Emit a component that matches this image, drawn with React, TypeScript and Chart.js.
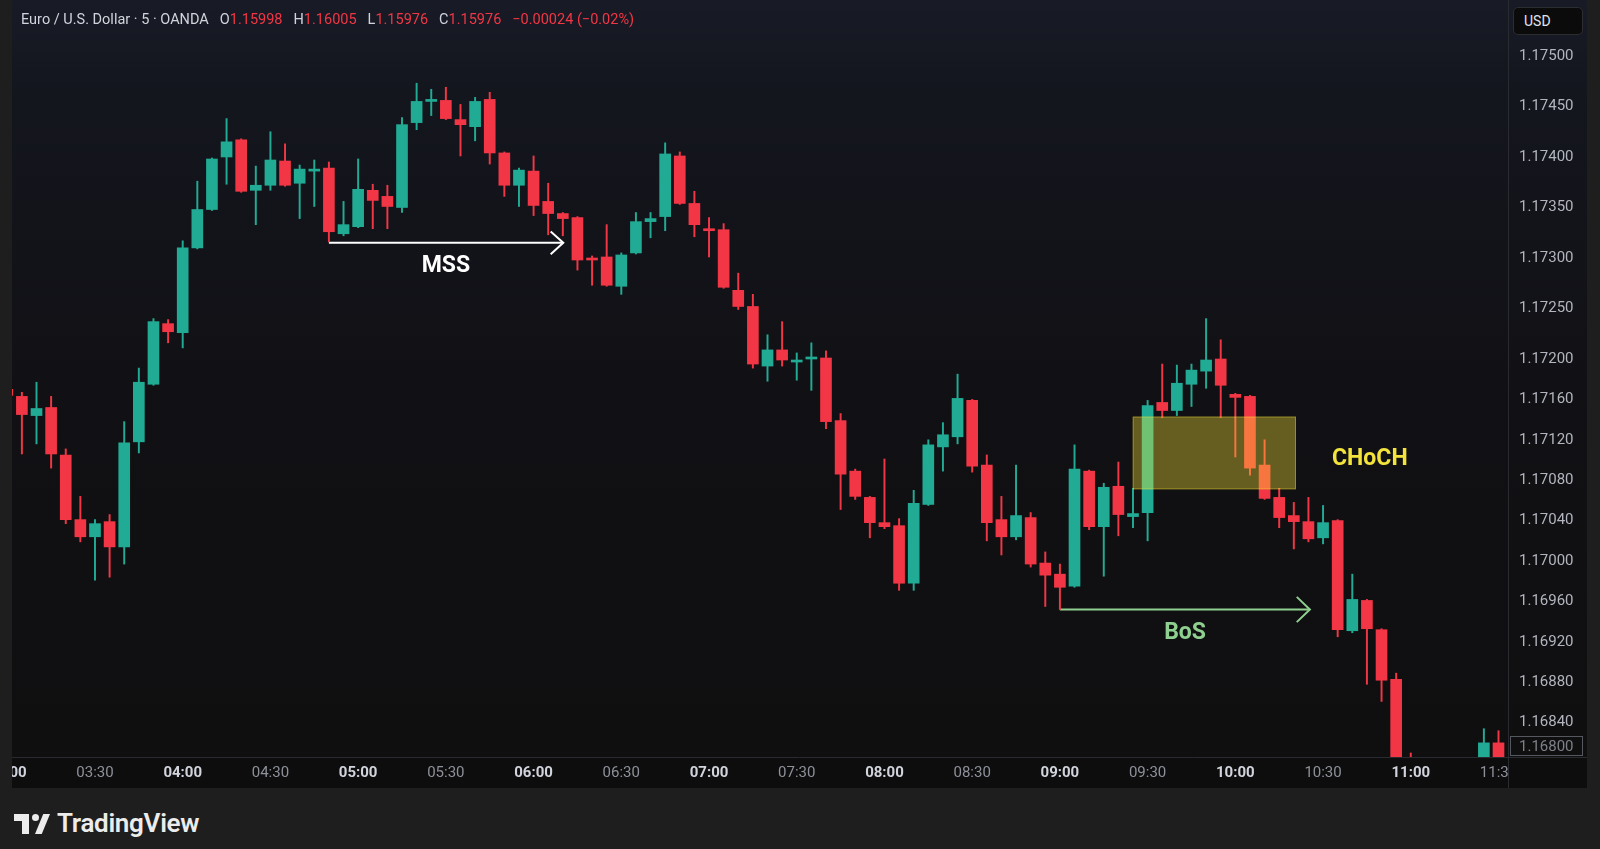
import React, { useEffect, useRef } from "react";
import { Chart, registerables } from "chart.js";

Chart.register(...registerables);

// ---------- data (5-minute EUR/USD candles) ----------
const times = [
  "03:00","03:05","03:10","03:15","03:20","03:25","03:30","03:35","03:40","03:45","03:50","03:55",
  "04:00","04:05","04:10","04:15","04:20","04:25","04:30","04:35","04:40","04:45","04:50","04:55",
  "05:00","05:05","05:10","05:15","05:20","05:25","05:30","05:35","05:40","05:45","05:50","05:55",
  "06:00","06:05","06:10","06:15","06:20","06:25","06:30","06:35","06:40","06:45","06:50","06:55",
  "07:00","07:05","07:10","07:15","07:20","07:25","07:30","07:35","07:40","07:45","07:50","07:55",
  "08:00","08:05","08:10","08:15","08:20","08:25","08:30","08:35","08:40","08:45","08:50","08:55",
  "09:00","09:05","09:10","09:15","09:20","09:25","09:30","09:35","09:40","09:45","09:50","09:55",
  "10:00","10:05","10:10","10:15","10:20","10:25","10:30","10:35","10:40","10:45","10:50","10:55",
  "11:00","11:05","11:10","11:15","11:20","11:25","11:30",
];

const opens = [
  1.17170, 1.17163, 1.17144, 1.17152, 1.17105, 1.17041, 1.17024, 1.17039, 1.17014, 1.17118, 1.17175, 1.17235,
  1.17226, 1.17310, 1.17348, 1.17400, 1.17417, 1.17367, 1.17372, 1.17396, 1.17374, 1.17386, 1.17389, 1.17324,
  1.17331, 1.17367, 1.17361, 1.17350, 1.17434, 1.17455, 1.17456, 1.17437, 1.17430, 1.17457, 1.17404, 1.17372,
  1.17386, 1.17356, 1.17344, 1.17340, 1.17300, 1.17301, 1.17272, 1.17305, 1.17336, 1.17341, 1.17401, 1.17354,
  1.17329, 1.17328, 1.17268, 1.17252, 1.17193, 1.17209, 1.17197, 1.17200, 1.17201, 1.17139, 1.17089, 1.17063,
  1.17038, 1.17035, 1.16978, 1.17056, 1.17113, 1.17123, 1.17159, 1.17095, 1.17041, 1.17024, 1.17043, 1.16998,
  1.16987, 1.16975, 1.17089, 1.17034, 1.17074, 1.17044, 1.17048, 1.17157, 1.17149, 1.17175, 1.17188, 1.17200,
  1.17165, 1.17163, 1.17095, 1.17063, 1.17045, 1.17039, 1.17023, 1.17040, 1.16931, 1.16961, 1.16932, 1.16883,
  1.16760, 1.16725, 1.16740, 1.16715, 1.16745, 1.16785, 1.16820,
];

const highs = [
  1.17178, 1.17167, 1.17177, 1.17163, 1.17111, 1.17064, 1.17041, 1.17046, 1.17138, 1.17191, 1.17240, 1.17239,
  1.17317, 1.17376, 1.17399, 1.17438, 1.17418, 1.17391, 1.17425, 1.17413, 1.17392, 1.17397, 1.17395, 1.17356,
  1.17398, 1.17373, 1.17372, 1.17439, 1.17473, 1.17467, 1.17469, 1.17452, 1.17459, 1.17464, 1.17405, 1.17389,
  1.17401, 1.17374, 1.17345, 1.17341, 1.17302, 1.17333, 1.17305, 1.17345, 1.17345, 1.17414, 1.17405, 1.17366,
  1.17340, 1.17334, 1.17285, 1.17264, 1.17224, 1.17237, 1.17206, 1.17216, 1.17208, 1.17146, 1.17091, 1.17064,
  1.17101, 1.17042, 1.17070, 1.17120, 1.17137, 1.17185, 1.17160, 1.17105, 1.17064, 1.17095, 1.17048, 1.17009,
  1.16997, 1.17115, 1.17090, 1.17077, 1.17098, 1.17072, 1.17159, 1.17195, 1.17194, 1.17195, 1.17240, 1.17219,
  1.17166, 1.17164, 1.17120, 1.17072, 1.17058, 1.17063, 1.17055, 1.17041, 1.16987, 1.16962, 1.16933, 1.16889,
  1.16810, 1.16760, 1.16770, 1.16750, 1.16790, 1.16834, 1.16832,
];

const lows = [
  1.17150, 1.17106, 1.17116, 1.17092, 1.17037, 1.17019, 1.16981, 1.16984, 1.16997, 1.17107, 1.17174, 1.17216,
  1.17211, 1.17309, 1.17347, 1.17373, 1.17365, 1.17333, 1.17367, 1.17371, 1.17339, 1.17351, 1.17316, 1.17322,
  1.17330, 1.17329, 1.17329, 1.17345, 1.17427, 1.17441, 1.17437, 1.17401, 1.17416, 1.17393, 1.17361, 1.17351,
  1.17342, 1.17323, 1.17322, 1.17288, 1.17273, 1.17272, 1.17264, 1.17304, 1.17320, 1.17327, 1.17353, 1.17321,
  1.17301, 1.17270, 1.17249, 1.17191, 1.17178, 1.17193, 1.17179, 1.17169, 1.17131, 1.17051, 1.17061, 1.17023,
  1.17032, 1.16971, 1.16971, 1.17055, 1.17089, 1.17116, 1.17088, 1.17020, 1.17006, 1.17021, 1.16994, 1.16955,
  1.16952, 1.16974, 1.17031, 1.16985, 1.17025, 1.17033, 1.17020, 1.17142, 1.17144, 1.17153, 1.17171, 1.17142,
  1.17103, 1.17085, 1.17061, 1.17033, 1.17012, 1.17019, 1.17017, 1.16925, 1.16929, 1.16878, 1.16861, 1.16740,
  1.16700, 1.16690, 1.16705, 1.16680, 1.16730, 1.16775, 1.16790,
];

const closes = [
  1.17164, 1.17145, 1.17151, 1.17106, 1.17041, 1.17024, 1.17037, 1.17014, 1.17117, 1.17177, 1.17237, 1.17227,
  1.17310, 1.17348, 1.17398, 1.17415, 1.17366, 1.17372, 1.17397, 1.17372, 1.17388, 1.17388, 1.17326, 1.17333,
  1.17368, 1.17357, 1.17351, 1.17432, 1.17455, 1.17457, 1.17438, 1.17432, 1.17455, 1.17404, 1.17372, 1.17387,
  1.17352, 1.17344, 1.17339, 1.17298, 1.17298, 1.17273, 1.17303, 1.17336, 1.17339, 1.17403, 1.17354, 1.17333,
  1.17327, 1.17271, 1.17252, 1.17195, 1.17209, 1.17199, 1.17199, 1.17202, 1.17138, 1.17086, 1.17064, 1.17038,
  1.17034, 1.16978, 1.17057, 1.17115, 1.17125, 1.17161, 1.17094, 1.17038, 1.17024, 1.17045, 1.16997, 1.16986,
  1.16974, 1.17091, 1.17034, 1.17073, 1.17046, 1.17047, 1.17154, 1.17149, 1.17176, 1.17189, 1.17199, 1.17174,
  1.17162, 1.17092, 1.17062, 1.17043, 1.17039, 1.17022, 1.17038, 1.16932, 1.16962, 1.16933, 1.16882, 1.16760,
  1.16725, 1.16740, 1.16715, 1.16745, 1.16785, 1.16820, 1.16800,
];

const priceTicks = [
  1.175, 1.1745, 1.174, 1.1735, 1.173, 1.1725, 1.172, 1.1716, 1.1712, 1.1708,
  1.1704, 1.17, 1.1696, 1.1692, 1.1688, 1.1684,
];

const timeTicks = [
  "03:00", "03:30", "04:00", "04:30", "05:00", "05:30", "06:00", "06:30", "07:00",
  "07:30", "08:00", "08:30", "09:00", "09:30", "10:00", "10:30", "11:00", "11:30",
];

// visible window (bar index / price)
const viewX = [0.324, 102.65];
const viewY = [1.16806, 1.175554];

// annotations (bar index / price)
const mssLevel = 1.17315;
const mssSpan = [22, 38.03];
const mssLabelAt = [30, 1.17292];
const bosLevel = 1.16952;
const bosSpan = [72, 89.1];
const bosLabelAt = [80.56, 1.16929];
const chochBoxX = [76.98, 88.15];
const chochBoxY = [1.17071, 1.17143];
const chochLabelAt = [93.2, 1.17101];

const headerTitle = "Euro / U.S. Dollar · 5 · OANDA";
const headerItems = [
  { label: "O", value: "1.15998" },
  { label: "H", value: "1.16005" },
  { label: "L", value: "1.15976" },
  { label: "C", value: "1.15976" },
];
const headerChange = "−0.00024 (−0.02%)";

const UP = "#22ab94";
const DOWN = "#f23645";
const FONT = "Roboto, 'Noto Sans', sans-serif";

export default function App() {
  const ref = useRef<HTMLCanvasElement | null>(null);

  useEffect(() => {
    if (!ref.current) return;
    const colors = opens.map((o, k) => (closes[k] >= o ? UP : DOWN));

    const bgPlugin = {
      id: "tvBackground",
      beforeDraw(chart: any) {
        const { ctx, chartArea: a, width, height } = chart;
        ctx.save();
        const g = ctx.createLinearGradient(0, 0, 0, a.bottom);
        g.addColorStop(0, "#181b26");
        g.addColorStop(0.12, "#14161e");
        g.addColorStop(0.5, "#111115");
        g.addColorStop(1, "#0f0f10");
        ctx.fillStyle = g;
        ctx.fillRect(0, 0, width, a.bottom);
        ctx.fillStyle = "#0d0d0e";
        ctx.fillRect(0, a.bottom, width, height - a.bottom);
        ctx.restore();
      },
      afterDraw(chart: any) {
        const { ctx, chartArea: a, width, height } = chart;
        ctx.save();
        ctx.fillStyle = "#0d0d0e";
        ctx.fillRect(a.right, a.bottom, width - a.right, height - a.bottom);
        ctx.strokeStyle = "#2a2b30";
        ctx.lineWidth = 1;
        ctx.beginPath();
        ctx.moveTo(a.right + 0.5, 0);
        ctx.lineTo(a.right + 0.5, height);
        ctx.moveTo(0, a.bottom + 0.5);
        ctx.lineTo(width, a.bottom + 0.5);
        ctx.stroke();
        const last = closes[closes.length - 1];
        const yS = chart.scales.y;
        let py = yS.getPixelForValue(last);
        py = Math.max(a.top + 10, Math.min(a.bottom - 11, py));
        const bx = a.right + 2.5;
        const bw = 72;
        const bh = 19;
        ctx.fillStyle = "#0f0f10";
        ctx.fillRect(bx, py - bh / 2, bw, bh);
        ctx.strokeStyle = "#55585f";
        ctx.strokeRect(bx, py - bh / 2, bw, bh);
        ctx.fillStyle = "#7d8088";
        ctx.font = `15px ${FONT}`;
        ctx.textAlign = "left";
        ctx.textBaseline = "middle";
        ctx.fillText(last.toFixed(5), a.right + 11, py + 1);
        ctx.restore();
      },
    };

    const annotPlugin = {
      id: "smcAnnotations",
      afterDatasetsDraw(chart: any) {
        const { ctx } = chart;
        const xs = chart.scales.x;
        const ys = chart.scales.y;
        ctx.save();
        const x0 = xs.getPixelForValue(chochBoxX[0]);
        const x1 = xs.getPixelForValue(chochBoxX[1]);
        const y0 = ys.getPixelForValue(chochBoxY[1]);
        const y1 = ys.getPixelForValue(chochBoxY[0]);
        ctx.fillStyle = "rgba(255, 232, 56, 0.36)";
        ctx.fillRect(x0, y0, x1 - x0, y1 - y0);
        ctx.strokeStyle = "rgba(255, 232, 56, 0.35)";
        ctx.lineWidth = 1;
        ctx.strokeRect(x0 + 0.5, y0 + 0.5, x1 - x0 - 1, y1 - y0 - 1);
        ctx.font = `bold 23px ${FONT}`;
        ctx.textAlign = "center";
        ctx.textBaseline = "middle";
        ctx.fillStyle = "#ffffff";
        ctx.fillText("MSS", xs.getPixelForValue(mssLabelAt[0]), ys.getPixelForValue(mssLabelAt[1]));
        ctx.fillStyle = "#8fcf8f";
        ctx.fillText("BoS", xs.getPixelForValue(bosLabelAt[0]), ys.getPixelForValue(bosLabelAt[1]));
        ctx.fillStyle = "#f3e33c";
        ctx.fillText("CHoCH", xs.getPixelForValue(chochLabelAt[0]), ys.getPixelForValue(chochLabelAt[1]));
        ctx.restore();
      },
    };

    const arrowHead = (tipX: number, level: number, dx: number, dy: number) => [
      { x: tipX - dx, y: level + dy },
      { x: tipX, y: level },
      { x: tipX - dx, y: level - dy },
    ];

    const lineStyle = (color: string) => ({
      type: "line" as const,
      borderColor: color,
      borderWidth: 2,
      pointRadius: 0,
      tension: 0,
      fill: false,
      clip: 0,
    });

    const chart = new Chart(ref.current, {
      type: "bar",
      data: {
        datasets: [
          {
            data: opens.map((o, k) => ({ x: k, y: [o, closes[k]] })) as any,
            backgroundColor: colors,
            barThickness: 11,
            minBarLength: 1,
            grouped: false,
            borderWidth: 0,
            clip: 0,
          } as any,
          {
            data: lows.map((l, k) => ({ x: k, y: [l, highs[k]] })) as any,
            backgroundColor: colors,
            barThickness: 1.3,
            grouped: false,
            borderWidth: 0,
            clip: 0,
          } as any,
          {
            ...lineStyle("#ffffff"),
            data: [
              { x: mssSpan[0], y: mssLevel },
              { x: mssSpan[1], y: mssLevel },
            ],
          } as any,
          { ...lineStyle("#ffffff"), data: arrowHead(mssSpan[1], mssLevel, 0.86, 0.000112) } as any,
          {
            ...lineStyle("#8fcf8f"),
            data: [
              { x: bosSpan[0], y: bosLevel },
              { x: bosSpan[1], y: bosLevel },
            ],
          } as any,
          { ...lineStyle("#8fcf8f"), data: arrowHead(bosSpan[1], bosLevel, 0.9, 0.000125) } as any,
        ],
      },
      options: {
        responsive: false,
        animation: false,
        events: [],
        layout: { padding: 0 },
        plugins: { legend: { display: false }, tooltip: { enabled: false } },
        scales: {
          x: {
            type: "linear",
            min: viewX[0],
            max: viewX[1],
            offset: false,
            grid: { display: false, drawTicks: false, offset: false },
            border: { display: false },
            ticks: {
              autoSkip: false,
              maxRotation: 0,
              minRotation: 0,
              padding: 7,
              color: (c: any) =>
                times[c.tick?.value]?.endsWith(":00") ? "#d1d4dc" : "#8e9199",
              font: (c: any) => ({
                family: FONT,
                size: 15,
                weight: times[c.tick?.value]?.endsWith(":00") ? "bold" : "normal",
              }),
              callback: (v: any) => times[Math.round(Number(v))] ?? "",
            },
            afterBuildTicks: (s: any) => {
              s.ticks = timeTicks.map((t) => ({ value: times.indexOf(t) }));
            },
            afterFit: (s: any) => {
              s.height = 31;
              s.paddingLeft = 0;
              s.paddingRight = 0;
            },
          } as any,
          y: {
            type: "linear",
            position: "right",
            min: viewY[0],
            max: viewY[1],
            beginAtZero: false,
            grid: { display: false, drawTicks: false },
            border: { display: false },
            ticks: {
              autoSkip: false,
              padding: 11,
              color: "#b2b5be",
              font: { family: FONT, size: 15 },
              callback: (v: any) => Number(v).toFixed(5),
            },
            afterBuildTicks: (s: any) => {
              s.ticks = priceTicks.map((v) => ({ value: v }));
            },
            afterFit: (s: any) => {
              s.width = 79;
              s.paddingTop = 0;
              s.paddingBottom = 0;
            },
          } as any,
        },
      },
      plugins: [bgPlugin, annotPlugin],
    });

    return () => chart.destroy();
  }, []);

  return (
    <div
      style={{
        position: "fixed",
        left: 0,
        top: 0,
        width: 1600,
        height: 849,
        background: "#1e1e1f",
        overflow: "hidden",
        fontFamily: FONT,
      }}
    >
      <div style={{ position: "absolute", left: 12, top: 0, width: 1575, height: 788 }}>
        <canvas ref={ref} width={1575} height={788} style={{ width: 1575, height: 788, display: "block" }} />
      </div>

      {/* header legend */}
      <div
        style={{
          position: "absolute",
          left: 21,
          top: 11,
          display: "flex",
          gap: 11,
          fontSize: 14.5,
          lineHeight: "18px",
          whiteSpace: "nowrap",
        }}
      >
        <span style={{ color: "#d1d4dc" }}>{headerTitle}</span>
        {headerItems.map((h) => (
          <span key={h.label}>
            <span style={{ color: "#d1d4dc" }}>{h.label}</span>
            <span style={{ color: "#f23645" }}>{h.value}</span>
          </span>
        ))}
        <span style={{ color: "#f23645" }}>{headerChange}</span>
      </div>

      {/* currency button */}
      <div
        style={{
          position: "absolute",
          left: 1513,
          top: 7,
          width: 70,
          height: 28,
          boxSizing: "border-box",
          border: "1px solid #2c2d31",
          borderRadius: 5,
          background: "#0b0b0c",
          color: "#e0e3eb",
          fontSize: 14,
          lineHeight: "26px",
          paddingLeft: 10,
        }}
      >
        USD
      </div>

      {/* TradingView footer */}
      <div style={{ position: "absolute", left: 14, top: 814, width: 36, height: 20 }}>
        <div style={{ position: "absolute", left: 0, top: 0, width: 15, height: 7, background: "#ececec" }} />
        <div style={{ position: "absolute", left: 8, top: 0, width: 7, height: 20, background: "#ececec" }} />
        <div style={{ position: "absolute", left: 18, top: 0, width: 7, height: 7, borderRadius: 4, background: "#ececec" }} />
        <div
          style={{
            position: "absolute",
            left: 21,
            top: 0,
            width: 15,
            height: 20,
            background: "#ececec",
            clipPath: "polygon(55% 0, 100% 0, 45% 100%, 0 100%)",
          }}
        />
      </div>
      <div
        style={{
          position: "absolute",
          left: 57,
          top: 808,
          fontSize: 26,
          fontWeight: 600,
          color: "#ececec",
          letterSpacing: -0.3,
          lineHeight: "30px",
        }}
      >
        TradingView
      </div>
    </div>
  );
}
